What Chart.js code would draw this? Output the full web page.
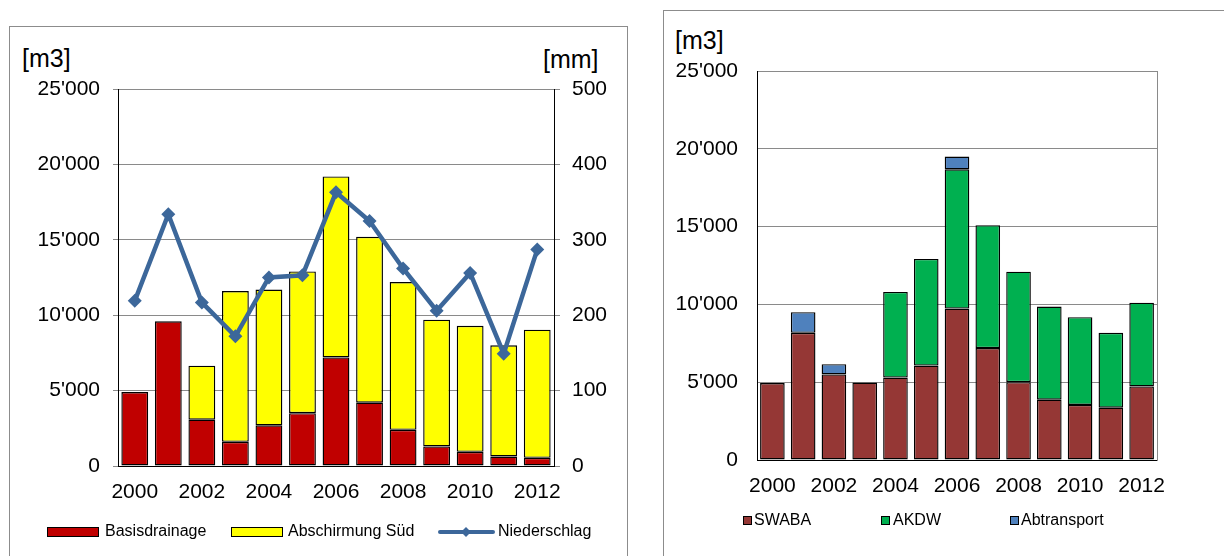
<!DOCTYPE html>
<html lang="de">
<head>
    <meta charset="UTF-8">
    <title>Sickerwasser 2000-2012</title>
    <script src="https://cdn.jsdelivr.net/npm/chart.js@4.4.2/dist/chart.umd.min.js"></script>
    <style>
        body {
            margin: 0;
            width: 1224px;
            height: 556px;
            overflow: hidden;
            background: #fff;
            font-family: 'Liberation Sans', Arial, sans-serif;
            position: relative;
        }
        .frame {
            position: absolute;
            border: 1px solid #8c8c8c;
            box-sizing: border-box;
        }
        .unit {
            position: absolute;
            font-size: 25px;
            color: #000;
            line-height: 1;
        }
        canvas { position: absolute; }
        .legend {
            position: absolute;
            font-size: 16px;
            color: #000;
            white-space: nowrap;
            line-height: 1;
        }
        .legend span { position: absolute; top: 0; }
        .sw { position: absolute; box-sizing: border-box; border: 1px solid #000; }
    </style>
</head>
<body>

    <!-- linke Grafik -->
    <div class="frame" style="left:9px; top:26px; width:619px; height:540px;"></div>
    <div class="unit" style="left:22px; top:46px;">[m3]</div>
    <div class="unit" style="left:543px; top:47px;">[mm]</div>
    <canvas id="leftChart" width="616" height="528" style="left:10px; top:28px;"></canvas>
    <div class="legend" style="left:0; top:523px;">
        <div class="sw" style="left:47px; top:4px; width:52px; height:10px; background:#C00000;"></div>
        <span style="left:105px;">Basisdrainage</span>
        <div class="sw" style="left:231px; top:4px; width:52px; height:10px; background:#FFFF00;"></div>
        <span style="left:288px;">Abschirmung Süd</span>
        <svg style="position:absolute; left:438px; top:2px;" width="58" height="14">
            <line x1="2" y1="7" x2="55" y2="7" stroke="#3C679A" stroke-width="4" stroke-linecap="round"/>
            <polygon points="28,2 33,7 28,12 23,7" fill="#3C679A"/>
        </svg>
        <span style="left:498px;">Niederschlag</span>
    </div>

    <!-- rechte Grafik -->
    <div class="frame" style="left:663px; top:10px; width:580px; height:560px;"></div>
    <div class="unit" style="left:675px; top:28px;">[m3]</div>
    <canvas id="rightChart" width="560" height="545" style="left:664px; top:11px;"></canvas>
    <div class="legend" style="left:0; top:512px;">
        <div class="sw" style="left:743px; top:4px; width:9px; height:9px; background:#953735;"></div>
        <span style="left:754px;">SWABA</span>
        <div class="sw" style="left:881px; top:4px; width:9px; height:9px; background:#00B050;"></div>
        <span style="left:893px;">AKDW</span>
        <div class="sw" style="left:1010px; top:4px; width:9px; height:9px; background:#4F81BD;"></div>
        <span style="left:1021px;">Abtransport</span>
    </div>

    <script>
    // --- Daten ---
    const years = ['2000', '2001', '2002', '2003', '2004', '2005', '2006',
                   '2007', '2008', '2009', '2010', '2011', '2012'];

    // linke Grafik [m3] / [mm]
    const basisdrainage = [4900, 9600, 3070, 1600, 2700, 3500, 7200, 4200, 2400, 1300, 940, 630, 540];
    const abschirmungSued = [0, 0, 3580, 10000, 9000, 9400, 12000, 11000, 9800, 8400, 8360, 7370, 8500];
    const niederschlag = [219, 334, 217, 172, 250, 253, 363, 325, 262, 206, 256, 149, 287];

    // rechte Grafik [m3]
    const swaba = [4950, 8170, 5500, 4980, 5300, 6070, 9730, 7190, 5000, 3880, 3540, 3360, 4730];
    const akdw = [0, 0, 0, 0, 5500, 6850, 8950, 7900, 7100, 5980, 5640, 4810, 5380];
    const abtransport = [0, 1330, 660, 0, 0, 0, 820, 0, 0, 0, 0, 0, 0];

    const m3Ticks = [0, 5000, 10000, 15000, 20000, 25000];
    const mmTicks = [0, 100, 200, 300, 400, 500];

    // 25000 -> 25'000
    const fmt = v => String(v).replace(/\B(?=(\d{3})+(?!\d))/g, "'");
    const everyOther = (val, i) => (i % 2 === 0 ? years[i] : '');

    Chart.defaults.font.family = "'Liberation Sans', Arial, sans-serif";
    Chart.defaults.color = '#000';
    Chart.defaults.animation = false;

    const fixSize = (w, h) => function (scale) {
        if (w !== undefined) scale.width = w;
        if (h !== undefined) scale.height = h;
    };

    const barStyle = { categoryPercentage: 1, barPercentage: 0.8, borderColor: '#000', borderWidth: 1.4, borderSkipped: false };

    // --- linke Grafik ---
    new Chart(document.getElementById('leftChart'), {
        data: {
            labels: years,
            datasets: [
                {
                    type: 'line',
                    label: 'Niederschlag',
                    data: niederschlag,
                    yAxisID: 'y1',
                    borderColor: '#3C679A',
                    backgroundColor: '#3C679A',
                    borderWidth: 4.5,
                    pointStyle: 'rectRot',
                    pointRadius: 7,
                    pointBorderWidth: 0,
                    tension: 0,
                    order: 0
                },
                {
                    type: 'bar',
                    label: 'Basisdrainage',
                    data: basisdrainage,
                    backgroundColor: '#C00000',
                    stack: 's',
                    order: 1
                },
                {
                    type: 'bar',
                    label: 'Abschirmung Süd',
                    data: abschirmungSued,
                    backgroundColor: '#FFFF00',
                    stack: 's',
                    order: 1
                }
            ]
        },
        options: {
            responsive: false,
            layout: { padding: { top: 61, left: 0, right: 0, bottom: 0 } },
            datasets: { bar: barStyle },
            plugins: { legend: { display: false }, tooltip: { enabled: false } },
            scales: {
                x: {
                    stacked: true,
                    grid: { display: false, drawTicks: false },
                    border: { color: '#000', width: 1 },
                    ticks: { autoSkip: false, maxRotation: 0, padding: 14, font: { size: 21 }, callback: everyOther },
                    afterFit: fixSize(undefined, 90)
                },
                y: {
                    stacked: true,
                    min: 0, max: 25000,
                    afterBuildTicks: s => { s.ticks = m3Ticks.map(v => ({ value: v })); },
                    grid: { color: '#8a8a8a', tickLength: 5, lineWidth: 1 },
                    border: { color: '#000', width: 1 },
                    ticks: { font: { size: 21 }, padding: 13, callback: v => fmt(v) },
                    afterFit: fixSize(108)
                },
                y1: {
                    position: 'right',
                    min: 0, max: 500,
                    afterBuildTicks: s => { s.ticks = mmTicks.map(v => ({ value: v })); },
                    grid: { drawOnChartArea: false, color: '#8a8a8a', tickLength: 6 },
                    border: { color: '#000', width: 1 },
                    ticks: { font: { size: 21 }, padding: 12 },
                    afterFit: fixSize(72)
                }
            }
        }
    });

    // --- rechte Grafik ---
    new Chart(document.getElementById('rightChart'), {
        type: 'bar',
        data: {
            labels: years,
            datasets: [
                { label: 'SWABA', data: swaba, backgroundColor: '#953735' },
                { label: 'AKDW', data: akdw, backgroundColor: '#00B050' },
                { label: 'Abtransport', data: abtransport, backgroundColor: '#4F81BD' }
            ]
        },
        options: {
            responsive: false,
            layout: { padding: { top: 60, left: 0, right: 0, bottom: 0 } },
            datasets: { bar: barStyle },
            plugins: { legend: { display: false }, tooltip: { enabled: false } },
            scales: {
                x: {
                    stacked: true,
                    grid: { display: false, drawTicks: false },
                    border: { color: '#000', width: 1 },
                    ticks: { autoSkip: false, maxRotation: 0, padding: 14, font: { size: 21 }, callback: everyOther },
                    afterFit: fixSize(undefined, 96)
                },
                y: {
                    stacked: true,
                    min: 0, max: 25000,
                    afterBuildTicks: s => { s.ticks = m3Ticks.map(v => ({ value: v })); },
                    grid: { color: '#8a8a8a', drawTicks: false, lineWidth: 1 },
                    border: { color: '#000', width: 1 },
                    ticks: { font: { size: 21 }, padding: 19, callback: v => fmt(v) },
                    afterFit: fixSize(93)
                },
                yr: {
                    position: 'right',
                    min: 0, max: 25000,
                    grid: { display: false },
                    border: { color: '#8a8a8a', width: 1 },
                    ticks: { display: false },
                    afterFit: fixSize(67)
                }
            }
        }
    });
    </script>
</body>
</html>
